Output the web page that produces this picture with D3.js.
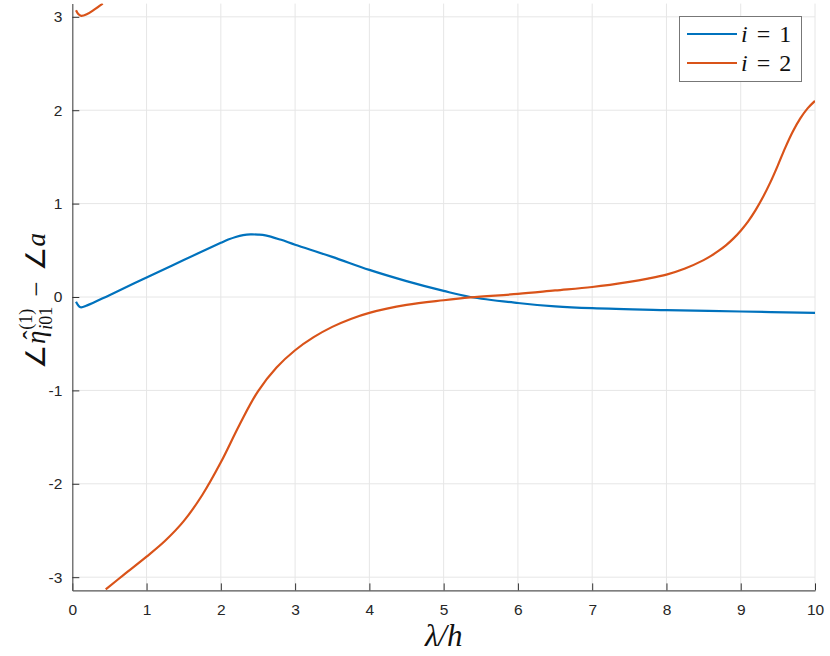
<!DOCTYPE html>
<html>
<head>
<meta charset="utf-8">
<script src="https://cdn.jsdelivr.net/npm/d3@7"></script>
<style>
  body { margin: 0; background: #fff; }
  svg { display: block; }
</style>
</head>
<body>
<svg id="chart" width="830" height="656"></svg>
<script>
// ---- data ----
const xTicks = [0, 1, 2, 3, 4, 5, 6, 7, 8, 9, 10];
const yTicks = [-3, -2, -1, 0, 1, 2, 3];
const seriesNames = ["i = 1", "i = 2"];

const blueX = [0.05, 0.11, 0.2, 0.5, 1, 1.5, 2, 2.1, 2.2, 2.3, 2.4, 2.5, 2.6, 2.8, 3, 3.5, 4, 4.5, 5, 5.36, 6, 6.5, 7, 8, 9, 10];
const blueY = [-0.05, -0.11, -0.09, 0.02, 0.21, 0.395, 0.58, 0.615, 0.643, 0.662, 0.67, 0.668, 0.66, 0.615, 0.56, 0.43, 0.29, 0.17, 0.065, 0.0, -0.064, -0.10, -0.12, -0.14, -0.155, -0.17];

const orangeTopX = [0.05, 0.08, 0.12, 0.2, 0.3, 0.41];
const orangeTopY = [3.07, 3.03, 3.01, 3.03, 3.08, 3.1416];

const orangeX = [0.45, 0.7, 1, 1.25, 1.5, 1.75, 2, 2.25, 2.5, 2.75, 3, 3.25, 3.5, 3.75, 4, 4.5, 5, 5.36, 6, 6.5, 7, 7.5, 7.75, 8, 8.25, 8.5, 8.6, 8.7, 8.8, 8.9, 9, 9.1, 9.2, 9.3, 9.4, 9.5, 9.6, 9.7, 9.8, 9.9, 10];
const orangeY = [-3.13, -2.97, -2.78, -2.61, -2.40, -2.12, -1.77, -1.37, -1.01, -0.755, -0.57, -0.43, -0.32, -0.235, -0.17, -0.085, -0.035, -0.005, 0.033, 0.07, 0.107, 0.162, 0.197, 0.24, 0.305, 0.395, 0.44, 0.493, 0.553, 0.625, 0.71, 0.81, 0.93, 1.07, 1.23, 1.41, 1.60, 1.77, 1.91, 2.02, 2.10];

// ---- layout ----
const svg = d3.select("#chart");
const pL = 72.3, pR = 815, pT = 3.6, pB = 590.4;
const x = d3.scaleLinear().domain([0, 10]).range([pL, pR]);
const y = d3.scaleLinear().domain([-Math.PI, Math.PI]).range([pB, pT]);

const blue = "#0072BD", orange = "#D95319";
const tickFont = "'Liberation Sans', Arial, Helvetica, sans-serif";
const mathFont = "'Liberation Serif', 'Times New Roman', serif";

// grid
const grid = svg.append("g");
grid.selectAll("line.gx").data(xTicks.filter(d => d > 0)).join("line")
  .attr("x1", d => x(d)).attr("x2", d => x(d))
  .attr("y1", pT).attr("y2", pB)
  .attr("stroke", "#e6e6e6").attr("stroke-width", 1);
grid.selectAll("line.gy").data(yTicks).join("line")
  .attr("x1", pL).attr("x2", pR)
  .attr("y1", d => y(d)).attr("y2", d => y(d))
  .attr("stroke", "#e6e6e6").attr("stroke-width", 1);

// clip
svg.append("clipPath").attr("id", "clip").append("rect")
  .attr("x", pL).attr("y", pT).attr("width", pR - pL).attr("height", pB - pT);

const line = d3.line().x(d => x(d[0])).y(d => y(d[1])).curve(d3.curveCatmullRom.alpha(0.5));
const curves = svg.append("g").attr("clip-path", "url(#clip)");
const zip = (a, b) => a.map((v, i) => [v, b[i]]);

curves.append("path").datum(zip(blueX, blueY)).attr("d", line)
  .attr("fill", "none").attr("stroke", blue).attr("stroke-width", 2.2).attr("stroke-linejoin", "round");
curves.append("path").datum(zip(orangeTopX, orangeTopY)).attr("d", line)
  .attr("fill", "none").attr("stroke", orange).attr("stroke-width", 2.2).attr("stroke-linejoin", "round");
curves.append("path").datum(zip(orangeX, orangeY)).attr("d", line)
  .attr("fill", "none").attr("stroke", orange).attr("stroke-width", 2.2).attr("stroke-linejoin", "round");

// axes
const xAxis = d3.axisBottom(x).tickValues(xTicks).tickSizeInner(-7).tickSizeOuter(0).tickPadding(14).tickFormat(d3.format("d"));
const yAxis = d3.axisLeft(y).tickValues(yTicks).tickSizeInner(-7).tickSizeOuter(0).tickPadding(14).tickFormat(d => d < 0 ? "-" + Math.abs(d) : String(d));

const gx = svg.append("g").attr("transform", `translate(0,${pB})`).call(xAxis);
const gy = svg.append("g").attr("transform", `translate(${pL},0)`).call(yAxis);
[gx, gy].forEach(g => {
  g.select(".domain").attr("stroke", "#555").attr("stroke-width", 1.2);
  g.selectAll(".tick line").attr("stroke", "#333").attr("stroke-width", 1);
  g.selectAll(".tick text").attr("fill", "#262626").style("font-family", tickFont).style("font-size", "15.5px");
});
gy.selectAll(".tick text").attr("dx", "4");

// x label
svg.append("text")
  .attr("x", (pL + pR) / 2).attr("y", 646)
  .attr("text-anchor", "middle")
  .style("font-family", mathFont).style("font-style", "italic").style("font-size", "31px")
  .attr("fill", "#111")
  .text("λ/h");

// y label (rotated, built piecewise)
const yl = svg.append("g").attr("transform", "translate(45,301) rotate(-90)");
const inner = yl.append("g");
let cx = 0;
function piece(t, opts) {
  const el = inner.append("text")
    .attr("x", opts.x !== undefined ? opts.x : cx)
    .attr("y", opts.dy || 0)
    .style("font-family", mathFont)
    .style("font-size", (opts.size || 27) + "px")
    .style("font-style", opts.italic ? "italic" : "normal")
    .attr("fill", "#111")
    .text(t);
  const w = el.node().getComputedTextLength();
  return { el, w };
}
let p = piece("∠", {}); cx += p.w + 1;
const etaX = cx;
p = piece("η", { italic: true }); const etaW = p.w; cx += p.w + 1;
piece("ˆ", { x: etaX + etaW * 0.35, dy: -3, size: 27 });
const scriptX = cx;
const sup = piece("(1)", { size: 18, dy: -13 });
const subI = piece("i", { size: 18, dy: 7, italic: true });
cx = scriptX + subI.w;
const sub01 = piece("01", { size: 18, dy: 7 });
cx = Math.max(scriptX + sup.w, cx + sub01.w) + 10;
p = piece("−", {}); cx += p.w + 10;
p = piece("∠", {}); cx += p.w + 1;
p = piece("a", { italic: true }); cx += p.w;
inner.attr("transform", `translate(${-cx / 2},0)`);

// legend
const lg = svg.append("g");
lg.append("rect").attr("x", 679.5).attr("y", 16.5).attr("width", 122).attr("height", 65)
  .attr("fill", "#fff").attr("stroke", "#777").attr("stroke-width", 1);
const legendItems = [{ name: seriesNames[0], color: blue, yy: 34 }, { name: seriesNames[1], color: orange, yy: 63 }];
legendItems.forEach(it => {
  lg.append("line").attr("x1", 687).attr("x2", 737).attr("y1", it.yy).attr("y2", it.yy)
    .attr("stroke", it.color).attr("stroke-width", 2.2);
  const parts = it.name.split(" ");
  const t = lg.append("text").attr("x", 741).attr("y", it.yy + 8)
    .style("font-family", mathFont).style("font-size", "24px").attr("fill", "#111");
  t.append("tspan").style("font-style", "italic").text(parts[0]);
  t.append("tspan").attr("dx", 9).text(parts[1]);
  t.append("tspan").attr("dx", 9).text(parts[2]);
});
</script>
</body>
</html>
